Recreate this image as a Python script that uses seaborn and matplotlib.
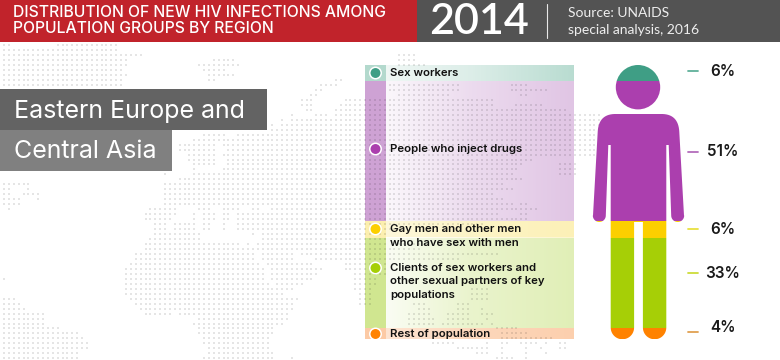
import numpy as np
import pandas as pd
import matplotlib
matplotlib.use("Agg")
from matplotlib import pyplot as plt
from matplotlib.patches import Rectangle, PathPatch
from matplotlib.path import Path
import seaborn as sns

groups = ["Sex workers", "People who inject drugs", "Gay men and other men\nwho have sex with men",
          "Clients of sex workers and\nother sexual partners of key\npopulations", "Rest of population"]
shares = [6, 51, 6, 33, 4]
share_labels = ["6%", "51%", "6%", "33%", "4%"]
title_text = "DISTRIBUTION OF NEW HIV INFECTIONS AMONG\nPOPULATION GROUPS BY REGION"
year_text = "2014"
source_text = "Source: UNAIDS\nspecial analysis, 2016"
region_lines = ["Eastern Europe and", "Central Asia"]

# spans of land per row of the dot map, top row first
map_rows = [
    [(4, 9), (60, 118)], [(4, 115)], [(4, 140), (400, 412)], [(4, 128), (216, 232), (400, 412)],
    [(4, 125), (197, 238), (400, 422)], [(4, 120), (202, 223)], [(4, 125), (207, 233)],
    [(4, 120), (207, 213), (337, 342)], [(4, 120), (320, 337), (390, 457), (513, 527)],
    [(4, 120), (315, 323), (390, 457), (513, 547)], [(310, 318), (400, 450), (520, 527)],
    [(302, 313), (345, 492)], [(302, 313), (342, 492), (518, 542)], [(307, 313), (337, 565)],
    [(292, 292), (315, 328), (337, 598)], [(281, 281), (292, 598)], [(270, 273), (280, 598)],
    [(270, 598)], [(202, 223), (237, 598)], [(192, 598)], [(182, 213), (222, 598)],
    [(182, 213), (227, 598)], [(187, 213), (225, 598)], [(187, 215), (230, 530)],
    [(192, 213), (228, 520), (560, 575)], [(192, 192), (223, 515), (560, 575)],
    [(167, 167), (192, 510), (560, 575)], [(182, 520)], [(4, 30), (167, 500)],
    [(4, 9), (28, 30), (167, 510)], [(4, 9), (23, 40), (167, 490)], [(4, 20), (38, 38), (167, 500)],
    [(4, 17), (167, 510), (523, 527)], [(9, 9), (152, 177), (200, 210), (222, 238), (252, 258), (272, 537)],
    [(147, 177), (192, 192), (202, 213), (222, 230), (237, 497), (520, 527)],
    [(147, 170), (192, 192), (202, 213), (222, 230), (237, 527)],
    [(153, 163), (177, 193), (202, 208), (222, 222), (237, 480)],
    [(153, 163), (177, 193), (202, 208), (222, 222), (237, 400)],
    [(157, 198), (252, 252), (262, 385)], [(152, 198), (262, 385)],
    [(147, 240), (247, 247), (257, 385), (400, 420)], [(147, 420)],
    [(137, 253), (262, 293), (302, 497)], [(137, 253), (262, 293), (315, 457)],
    [(132, 257), (267, 313), (345, 385)], [(127, 263), (272, 322), (345, 385)],
    [(127, 263), (272, 317), (354, 385)], [(4, 4), (127, 263), (272, 310), (354, 375)],
    [(127, 268), (277, 303), (355, 375)], [(127, 293), (355, 370), (470, 487)],
    [(127, 283), (360, 370), (470, 487)], [(4, 14), (132, 298), (360, 370), (473, 487)],
    [(4, 18), (137, 293), (360, 370), (415, 423), (460, 467)],
    [(4, 24), (142, 293), (420, 428), (458, 468), (480, 480)],
    [(4, 45), (147, 170), (182, 288), (410, 428), (448, 468), (480, 492)],
    [(4, 45), (197, 288), (410, 417), (425, 432), (448, 467), (488, 488)],
    [(4, 45), (192, 283), (410, 432), (443, 480), (490, 490)],
    [(4, 60), (197, 273), (498, 517)], [(4, 75), (197, 273), (503, 527)], [(4, 80), (202, 268), (503, 550)],
    [(4, 85), (202, 268), (435, 452), (485, 485), (500, 507), (520, 537), (545, 545), (558, 567)],
    [(4, 85), (207, 268), (460, 482), (485, 485), (500, 500), (525, 525), (540, 540), (558, 567)],
    [(4, 75), (207, 273), (475, 487), (500, 500), (525, 525), (545, 545)],
    [(4, 75), (202, 273), (292, 292), (495, 512), (525, 525)],
]

# colours
dark_colors = ["#3f9e85", "#ab3fae", "#fccf00", "#a6cf06", "#ff8200"]
band_colors = ["#8fc7b6", "#b877c0", "#fce88a", "#bbdb5c", "#fbb27a"]
tick_colors = ["#5fb09a", "#b36cbb", "#e8e040", "#cddc39", "#e0a050"]
wash_left = [0.8, 0.92, 0.55, 0.9, 0.5]
wash_mid = [0.55, 0.62, 0.3, 0.55, 0.25]
wash_right = [0.08, 0.38, 0.1, 0.35, 0.1]

# layout in pixels
W, H = 780, 360
BAND_X = (365, 574)
STRIP_END = 386
BODY_X = (590, 690)
TOP, BOTTOM = 65, 339.3
dot_y = [45.2 + 4.97 * k for k in range(len(map_rows))]
marker_y = [73, 149, 229, 268, 334]
text_y = [73, 148.5, 236, 281.5, 334]
tick_y = [71, 152, 229, 273, 332]
pct_y = [72, 151.5, 229, 274, 328]

sns.set_style("white")
plt.rcParams["font.family"] = ["Inter", "DejaVu Sans"]

fig = plt.figure(figsize=(W / 100, H / 100), dpi=100)
fig.patch.set_facecolor("white")


def px_axes(x0, x1, y0, y1, zorder):
    a = fig.add_axes([x0 / W, 1 - y1 / H, (x1 - x0) / W, (y1 - y0) / H], zorder=zorder)
    a.patch.set_alpha(0)
    a.set_axis_off()
    return a


band_ax = px_axes(BAND_X[0], BAND_X[1], TOP, BOTTOM, 1)
base = px_axes(0, W, 0, H, 2)
body_ax = px_axes(BODY_X[0], BODY_X[1], TOP, BOTTOM, 3)
top = px_axes(0, W, 0, H, 4)
for a in (base, top):
    a.set_xlim(0, W)
    a.set_ylim(H, 0)

# dot map
dots = []
grid_x = 4 + 4.88 * np.arange(160)
for y, spans in zip(dot_y, map_rows):
    for x0, x1 in spans:
        for x in grid_x[(grid_x >= x0 - 2.4) & (grid_x <= x1 + 2.4)]:
            dots.append((x, y))
dots = pd.DataFrame(dots, columns=["x", "y"])
sns.scatterplot(data=dots, x="x", y="y", ax=base, marker="s", s=4.0, color="black", alpha=0.1, linewidth=0, legend=False)
base.set_axis_off()

# stacked bands and the person, one bar per group
df = pd.DataFrame({"group": groups, "share": shares})
df["start"] = df["share"].cumsum() - df["share"]
strip = -0.5 + (STRIP_END - BAND_X[0]) / (BAND_X[1] - BAND_X[0])
t = np.linspace(0, 1, 200)
for i, row in enumerate(df.itertuples()):
    sns.barplot(x=[0], y=[row.share], bottom=row.start, color=band_colors[i], saturation=1, width=1,
                linewidth=0, alpha=0.68, ax=band_ax, legend=False)
    sns.barplot(x=[0], y=[row.share], bottom=row.start, color=dark_colors[i], saturation=1, width=1,
                linewidth=0, ax=body_ax, legend=False)
    # white wash over the band, strongest next to the marker strip
    wash = np.ones((1, 200, 4))
    wash[0, :, 3] = np.interp(t, [0, 0.45, 1], [wash_left[i], wash_mid[i], wash_right[i]])
    band_ax.imshow(wash, extent=(strip, 0.5, row.start + row.share, row.start), aspect="auto", zorder=5)
for a in (band_ax, body_ax):
    a.set_xlim(-0.5, 0.5)
    a.set_ylim(100, 0)
    a.set_axis_off()


# silhouette
def arc(cx, cy, r, a0, a1, n=24):
    a = np.radians(np.linspace(a0, a1, n))
    return np.column_stack([cx + r * np.cos(a), cy + r * np.sin(a)])


def shoulder(n=16):
    s = np.linspace(0, 1, n)[:, None]
    p0, p1, p2 = np.array([-24, 114.0]), np.array([-40, 114.5]), np.array([-40.8, 132.0])
    return (1 - s) ** 2 * p0 + 2 * s * (1 - s) * p1 + s ** 2 * p2


half = np.vstack([
    [[0, 114]],
    shoulder(),
    [[-45.5, 215.5]],
    arc(-39.2, 215.5, 6.5, 180, 0),
    [[-30.2, 145], [-27.8, 145], [-27.8, 327.5]],
    arc(-16.1, 327.6, 11.7, 180, 0),
    [[-4.4, 222], [0, 222]],
])
mirror = half[::-1] * [-1, 1]
body = np.vstack([half, mirror[1:]]) + [638.5, 0]
sil = Path.make_compound_path(Path.circle((638, 87.2), 22.2), Path(np.vstack([body, body[:1]]), closed=True))
clip = PathPatch(sil, transform=top.transData, fc="none", ec="none")
top.add_patch(clip)
for p in body_ax.patches:
    p.set_clip_path(clip)

# header and region boxes
for x0, x1, y0, y1, c in [(0, 417, 0, 42, "#c1232b"), (417, W, 0, 42, "#535353"),
                          (0, 267, 89, 130, "#636363"), (0, 172, 130, 171, "#808080")]:
    top.add_patch(Rectangle((x0, y0), x1 - x0, y1 - y0, fc=c, ec="none"))
top.plot([547, 547], [4, 38], color="#e8e8e8", lw=0.8)

top.text(13, 20.5, title_text, color="white", fontsize=11.3, fontweight="medium", va="center", linespacing=1.1)
top.text(479, 22, year_text, color="white", fontsize=31, fontweight="semibold", ha="center", va="center", family=["Lato", "DejaVu Sans"])
top.text(568, 21.5, source_text, color="#eeeeee", fontsize=10.0, va="center", linespacing=1.5, family=["Lato", "DejaVu Sans"])
for y, line in zip([109, 149], region_lines):
    top.text(14, y, line, color="white", fontsize=18, va="center_baseline")

# legend markers and text
sns.scatterplot(x=[375.5] * 5, y=marker_y, ax=top, hue=groups, palette=dark_colors, s=68, edgecolor="white",
                linewidth=1.1, legend=False, zorder=4)
top.set_axis_off()
for y, g in zip(text_y, groups):
    top.text(390, y, g, color="#111111", fontsize=8.2, fontweight="semibold", va="center", linespacing=1.38, zorder=5)

# leader ticks and percentages
for y, py, lab, c in zip(tick_y, pct_y, share_labels, tick_colors):
    top.plot([688, 698], [y, y], color=c, lw=1.3)
    top.text(723, py, lab, color="#1a1a1a", fontsize=11, fontweight="semibold", ha="center", va="center")

fig.savefig("out.png", dpi=100)
